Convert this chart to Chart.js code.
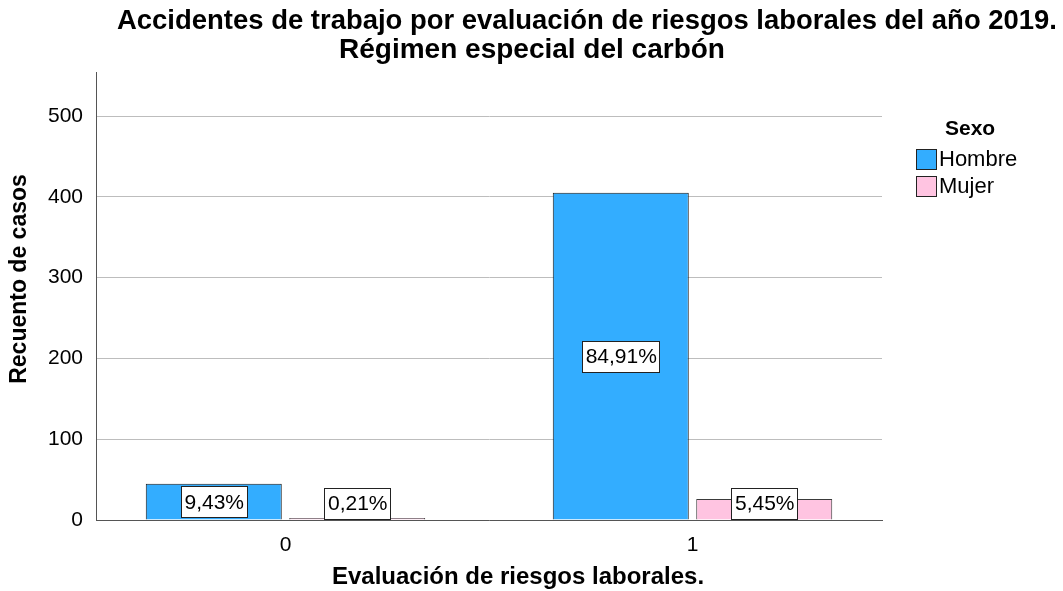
<!DOCTYPE html>
<html lang="es">
<head>
    <meta charset="UTF-8">
    <title>Accidentes de trabajo - Régimen especial del carbón</title>
    <style>
        body{
            margin: 0;
            overflow: hidden;
            background: #fff;
        }
        #wrap{
            position: relative;
            width: 1063px;
            height: 591px;
        }
    </style>
</head>
<body>
<div id="wrap"><canvas id="chart"></canvas></div>
<script src="https://cdn.jsdelivr.net/npm/chart.js"></script>
<script>
    // Recuento de casos por evaluación de riesgos (0 / 1) y sexo
    const evaluaciones = [0, 1];
    const hombre = [45, 405];
    const mujer = [1, 26];
    const yTicks = [0, 100, 200, 300, 400, 500];

    const titulo = ['Accidentes de trabajo por evaluación de riesgos laborales del año 2019.', 'Régimen especial del carbón'];
    const total = hombre.concat(mujer).reduce((a, b) => a + b, 0);

    const FONT = '"Liberation Sans", Arial, sans-serif';
    const AZUL = '#33adff';
    const ROSA = '#ffc4e1';

    function pct(v){
        return (v / total * 100).toFixed(2).replace('.', ',') + '%';
    }

    // porcentaje en una caja blanca, centrado en la barra
    const etiquetas = {
        id: 'etiquetas',
        afterDatasetsDraw(chart){
            const ctx = chart.ctx;
            ctx.save();
            ctx.font = '21px ' + FONT;
            ctx.textAlign = 'center';
            ctx.textBaseline = 'middle';
            chart.data.datasets.forEach((ds, i) => {
                chart.getDatasetMeta(i).data.forEach((bar, j) => {
                    const txt = pct(ds.data[j].y);
                    const w = Math.round(ctx.measureText(txt).width + 6);
                    const h = 31;
                    const mid = (bar.y + bar.base) / 2;
                    const cy = Math.min(mid, bar.base - h / 2 - 1);
                    const x0 = Math.round(bar.x - w / 2), y0 = Math.round(cy - h / 2);
                    ctx.fillStyle = '#fff';
                    ctx.fillRect(x0, y0, w, h);
                    ctx.strokeStyle = '#222';
                    ctx.lineWidth = 1;
                    ctx.strokeRect(x0 + 0.5, y0 + 0.5, w, h);
                    ctx.fillStyle = '#000';
                    ctx.fillText(txt, bar.x + 0.5, cy + 1.5);
                });
            });
            ctx.restore();
        }
    };

    // títulos, ejes y leyenda
    const textos = {
        id: 'textos',
        afterDraw(chart){
            const ctx = chart.ctx;
            ctx.save();
            ctx.fillStyle = '#000';
            ctx.textBaseline = 'middle';
            ctx.textAlign = 'center';
            ctx.font = 'bold 28px ' + FONT;
            ctx.fillText(titulo[0], 587, 21, 940);
            ctx.fillText(titulo[1], 532, 50, 400);

            ctx.font = 'bold 24px ' + FONT;
            ctx.fillText('Evaluación de riesgos laborales.', 518, 577);
            ctx.font = 'bold 23px ' + FONT;
            ctx.save();
            ctx.translate(20, 279);
            ctx.rotate(-Math.PI / 2);
            ctx.fillText('Recuento de casos', 0, 0);
            ctx.restore();

            // leyenda
            ctx.textAlign = 'left';
            ctx.font = 'bold 21px ' + FONT;
            ctx.fillText('Sexo', 945, 129);
            ctx.font = '22px ' + FONT;
            chart.data.datasets.forEach((ds, i) => {
                const y = 149 + i * 27;
                ctx.fillStyle = ds.backgroundColor;
                ctx.fillRect(916, y, 21, 21);
                ctx.strokeStyle = '#222';
                ctx.lineWidth = 1;
                ctx.strokeRect(916.5, y + 0.5, 20, 20);
                ctx.fillStyle = '#000';
                ctx.fillText(ds.label, 939, y + 11);
            });
            ctx.restore();
        }
    };

    const data = {
        datasets: [{
            label: 'Hombre',
            data: evaluaciones.map((e, i) => ({x: e, y: hombre[i]})),
            backgroundColor: AZUL,
            borderColor: '#1a1a1a',
            borderWidth: 1
        }, {
            label: 'Mujer',
            data: evaluaciones.map((e, i) => ({x: e, y: mujer[i]})),
            backgroundColor: ROSA,
            borderColor: '#3a3a3a',
            borderWidth: 1,
            minBarLength: 2
        }]
    };

    new Chart(document.getElementById('chart'), {
        type: 'bar',
        data,
        plugins: [etiquetas, textos],
        options: {
            responsive: true,
            maintainAspectRatio: false,
            animation: false,
            categoryPercentage: 0.705,
            barPercentage: 0.948,
            layout: {
                padding: {left: 0, right: 181, top: 72, bottom: 31}
            },
            plugins: {
                legend: {display: false},
                title: {display: false},
                tooltip: {enabled: false}
            },
            scales: {
                x: {
                    type: 'linear',
                    offset: false,
                    min: -0.4656,
                    max: 1.4656,
                    afterBuildTicks: (s) => { s.ticks = evaluaciones.map(v => ({value: v})); },
                    afterFit: (s) => { s.height = 40; },
                    grid: {display: false},
                    border: {color: '#555', width: 1},
                    ticks: {
                        color: '#000',
                        padding: 5,
                        maxRotation: 0,
                        font: {family: FONT, size: 21}
                    }
                },
                y: {
                    min: 0,
                    max: 554.5,
                    afterBuildTicks: (s) => { s.ticks = yTicks.map(v => ({value: v})); },
                    afterFit: (s) => { s.width = 96; },
                    grid: {color: '#bdbdbd', drawTicks: false},
                    border: {color: '#555', width: 1},
                    ticks: {
                        color: '#000',
                        padding: 13,
                        font: {family: FONT, size: 21}
                    }
                }
            }
        }
    });
</script>
</body>
</html>
